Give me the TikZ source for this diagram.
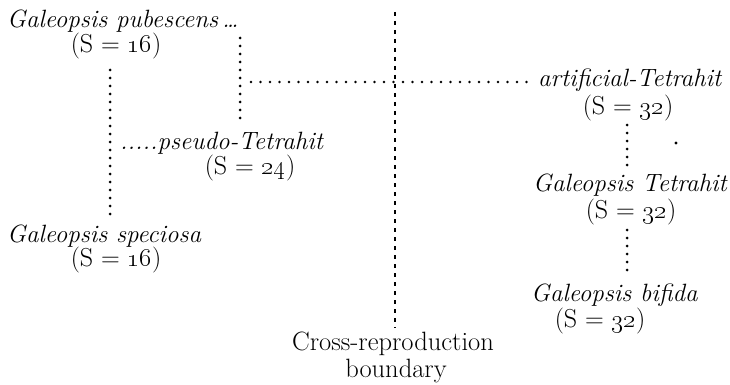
\documentclass[tikz,border=0pt]{standalone}
\usepackage{fix-cm}
\tikzset{
  lbl/.style={inner sep=0pt, font=\fontsize{25}{30}\selectfont\itshape},
  num/.style={inner sep=0pt, font=\fontsize{26}{30}\selectfont},
  captxt/.style={inner sep=0pt, font=\fontsize{26.5}{30}\selectfont},
  dotline/.style={line width=3pt, line cap=round, dash pattern=on 0pt off 8pt},
  leader/.style={line width=2.7pt, line cap=round, dash pattern=on 0pt off 9.5pt},
  bound/.style={line width=1.2pt, dash pattern=on 4pt off 5pt}
}
\newcommand{\osn}[1]{\oldstylenums{#1}}
\newcommand{\seq}{\hspace{0.3em}=\hspace{0.3em}}
\begin{document}
\begin{tikzpicture}[x=1pt,y=-1pt]
\useasboundingbox (0,0) rectangle (730,385);
% species labels
\node[lbl, anchor=base west] (pub) at (7,28) {Galeopsis pubescens\,\ldots};
\node[num, anchor=base] (pubS) at (116,53) {(S\seq\osn{16})};
\node[lbl, anchor=base west] (pseudo) at (120,149) {.....pseudo-Tetrahit};
\node[num, anchor=base] (pseudoS) at (250,174) {(S\seq\osn{24})};
\node[lbl, anchor=base west] (spec) at (7,242) {Galeopsis speciosa};
\node[num, anchor=base] (specS) at (116,266) {(S\seq\osn{16})};
\node[lbl, anchor=base west] (art) at (538,87) {artificial-Tetrahit};
\node[num, anchor=base] (artS) at (628,114) {(S\seq\osn{32})};
\node[lbl, anchor=base west] (tet) at (533,191) {Galeopsis Tetrahit};
\node[num, anchor=base] (tetS) at (631,218) {(S\seq\osn{32})};
\node[lbl, anchor=base west] (bif) at (531,301) {Galeopsis bifida};
\node[num, anchor=base] (bifS) at (600,327) {(S\seq\osn{32})};
\node[captxt, anchor=base] (cross) at (393,350) {Cross-reproduction};
\node[captxt, anchor=base] (bnd) at (396,377) {boundary};
% line ends
\coordinate (l1a) at (110,70);
\coordinate (l1b) at (110,220);
\coordinate (l2a) at (240,38);
\coordinate (l2b) at (240,118);
\coordinate (h1a) at (251,82);
\coordinate (h1b) at (535,82);
\coordinate (r1a) at (627,125);
\coordinate (r1b) at (627,167);
\coordinate (r2a) at (627,230);
\coordinate (r2b) at (627,275);
\coordinate (ba) at (395,12);
\coordinate (bb) at (395,328);
% connectors
\draw[dotline] (l1a) -- (l1b);
\draw[dotline] (l2a) -- (l2b);
\draw[leader] (h1a) -- (h1b);
\draw[dotline] (r1a) -- (r1b);
\draw[dotline] (r2a) -- (r2b);
\draw[bound] (ba) -- (bb);
% speck
\fill (676,143) circle (1.6pt);
\end{tikzpicture}
\end{document}
